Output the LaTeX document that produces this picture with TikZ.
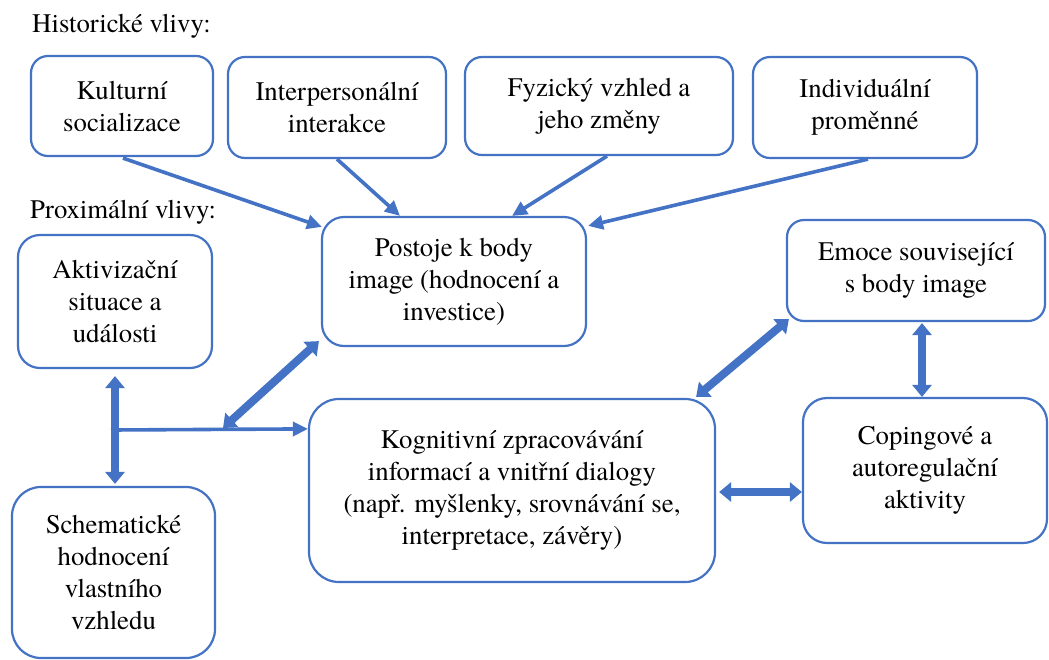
\documentclass[tikz,border=0pt]{standalone}
\usepackage{fontspec}
\setmainfont{texgyretermes}[Extension=.otf,UprightFont=*-regular]
\usetikzlibrary{arrows.meta,calc}
\definecolor{ablue}{HTML}{4472C4}
\begin{document}
\begin{tikzpicture}[x=1pt,y=-1pt,
  box/.style={draw=ablue, line width=2.2pt, fill=white, align=center,
    font=\fontsize{26.8}{32}\selectfont, inner sep=0pt},
  lbl/.style={font=\fontsize{26.8}{32}\selectfont, inner sep=0pt, anchor=base west},
  thinarrow/.style={draw=ablue, line width=3.6pt, -{Triangle[length=15pt,width=14pt]}},
  thickarrow/.style={draw=ablue, line width=8pt,
    {Triangle[length=12pt,width=19pt]}-{Triangle[length=12pt,width=19pt]}}
]
\useasboundingbox (0,0) rectangle (1049,659);
\fill[white] (0,0) rectangle (1049,659);

\node[lbl] (hist) at (32,32) {Historické vlivy:};
\node[lbl] (prox) at (30,218) {Proximální vlivy:};

\node[box, minimum width=182, minimum height=100, rounded corners=17pt] (kult) at (122,106) {Kulturní\\socializace};
\node[box, minimum width=218, minimum height=101, rounded corners=17pt] (inter) at (337,107.5) {Interpersonální\\interakce};
\node[box, minimum width=268, minimum height=98, rounded corners=17pt] (fyz) at (599,106) {Fyzický vzhled a\\jeho změny};
\node[box, minimum width=224, minimum height=101, rounded corners=17pt] (indiv) at (865,107.5) {Individuální\\proměnné};

\node[box, minimum width=264, minimum height=129, rounded corners=22pt] (post) at (454,281.5) {Postoje k body\\image (hodnocení a\\investice)};
\node[box, minimum width=194, minimum height=133, rounded corners=22pt] (akt) at (115,301.5) {Aktivizační\\situace a\\události};
\node[box, minimum width=258, minimum height=101, rounded corners=17pt] (emo) at (916,270.5) {Emoce související\\s body image};
\node[box, minimum width=406, minimum height=183, rounded corners=30pt] (kog) at (512,490.5) {Kognitivní zpracovávání\\informací a vnitřní dialogy\\(např. myšlenky, srovnávání se,\\interpretace, závěry)};
\node[box, minimum width=244, minimum height=145, rounded corners=24pt] (cop) at (925,470.5) {Copingové a\\autoregulační\\aktivity};
\node[box, minimum width=203, minimum height=171, rounded corners=29pt] (sch) at (113.5,572.5) {Schematické\\hodnocení\\vlastního\\vzhledu};

% historical influences -> attitudes
\draw[thinarrow] ($(kult.south)+(1,1)$) -- ($(post.north west)+(1,11)$);
\draw[thinarrow] (inter.south) -- ($(post.north)+(-54,0)$);
\draw[thinarrow] ($(fyz.south)+(8,0)$) -- ($(post.north)+(58,0)$);
\draw[thinarrow] ($(indiv.south)+(3,0)$) -- ($(post.north east)+(1,10)$);

% proximal
\coordinate (jL) at (111,430);
\coordinate (jD) at (223,428);
\coordinate (aktS) at ($(akt.south)+(0,7)$);
\coordinate (schN) at ($(sch.north)+(1.5,-2)$);
\draw[thinarrow] (jL) -- ($(kog.north west)+(0,31)$);
\draw[thickarrow] (jD) -- ($(post.south west)+(-2,-6)$);
\draw[thickarrow] (aktS) -- (aktS |- schN);

% right side
\coordinate (emoS) at ($(emo.south)+(6,1)$);
\coordinate (kogE) at ($(kog.east)+(3,1.5)$);
\draw[thickarrow] ($(kog.north east)+(-20,-1)$) -- ($(emo.south west)+(3,-3)$);
\draw[thickarrow] (emoS) -- (emoS |- cop.north);
\draw[thickarrow] (kogE) -- (kogE -| cop.west);
\end{tikzpicture}
\end{document}
